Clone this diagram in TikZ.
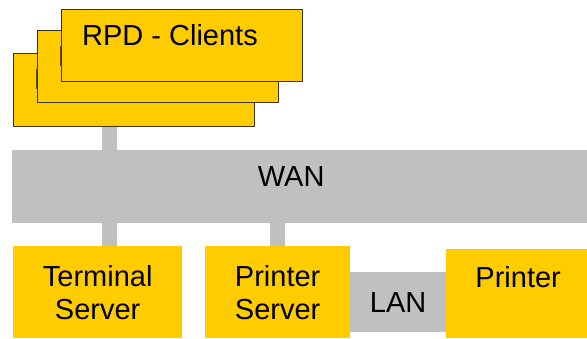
\documentclass[tikz,border=0pt]{standalone}
\usepackage{fontspec}
\setmainfont{Liberation Sans}
\definecolor{gold}{HTML}{FFCC00}
\definecolor{netgray}{HTML}{C0C0C0}
\definecolor{edge}{HTML}{3C3414}
\begin{document}
\begin{tikzpicture}[x=1pt,y=-1pt,
  client/.style={draw=edge, line width=0.8pt, fill=gold, minimum width=241pt, minimum height=72pt, inner sep=0pt, anchor=north west},
  ybox/.style={fill=gold, inner sep=0pt, anchor=north west, align=center, font=\fontsize{29}{33}\selectfont},
  net/.style={fill=netgray, inner sep=0pt, anchor=north west, font=\fontsize{29}{33}\selectfont},
  lbl/.style={inner sep=0pt, font=\fontsize{29}{33}\selectfont},
  conn/.style={draw=netgray, line width=15pt}]
\useasboundingbox (0,0) rectangle (587,338);
% client stack
\node[client, minimum height=73pt] (c3) at (13,53) {};
\node[lbl, anchor=base west] (t3) at ([shift={(21pt,-36pt)}]c3.north west) {RPD - Clients};
\node[client] (c2) at (37,30) {};
\node[lbl, anchor=base west] (t2) at ([shift={(21pt,-36pt)}]c2.north west) {RPD - Clients};
\node[client] (c1) at (61,9) {};
\node[lbl, anchor=base west] (t1) at ([shift={(21pt,-36pt)}]c1.north west) {RPD - Clients};
% WAN
\node[net, minimum width=575pt, minimum height=73pt] (wan) at (12,150) {};
\node[lbl] (wanlbl) at ([shift={(-8.5pt,10pt)}]wan.center) {WAN};
% bottom row
\node[ybox, minimum width=169pt, minimum height=92pt] (ts) at (13,246) {Terminal\\Server};
\node[ybox, minimum width=145pt, minimum height=92pt] (ps) at (205,246) {Printer\\Server};
\node[net, minimum width=96pt, minimum height=60pt] (lan) at (350,272) {LAN};
\node[ybox, minimum width=141pt, minimum height=89pt] (pr) at (446,249) {};
\node[lbl, anchor=base] (prlbl) at ([shift={(1.5pt,-38pt)}]pr.north) {Printer};
% connectors
\draw[conn] ([xshift=-24pt]c3.south) -- ([xshift=-24pt]c3.south |- wan.north);
\draw[conn] ([xshift=12pt]ts.north) -- ([xshift=12pt]ts.north |- wan.south);
\draw[conn] (ps.north) -- (ps.north |- wan.south);
\end{tikzpicture}
\end{document}
